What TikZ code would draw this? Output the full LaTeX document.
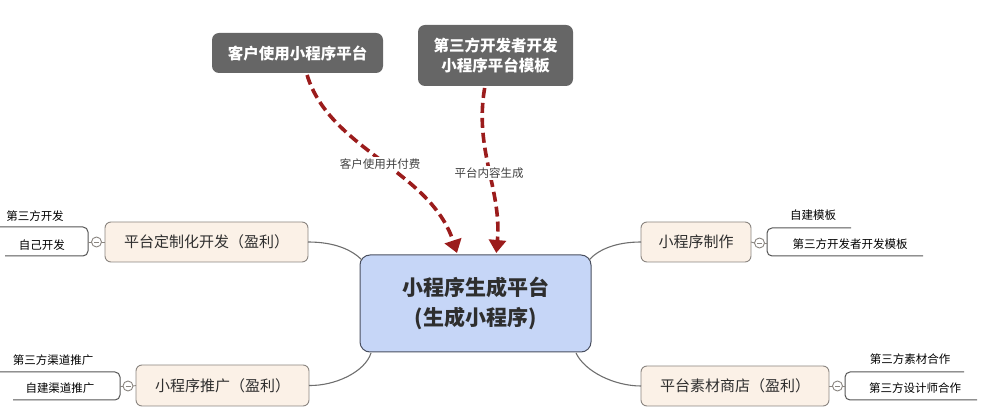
\documentclass[tikz,border=0pt]{standalone}
\usepackage{fontspec}
\setmainfont{Noto Sans CJK SC}
\usetikzlibrary{arrows.meta,calc}
\definecolor{arrowred}{HTML}{9B1C1C}
\definecolor{darkbox}{HTML}{666666}
\definecolor{peach}{HTML}{FBF1E7}
\definecolor{centerblue}{HTML}{C6D6F7}
\definecolor{centerborder}{HTML}{4A5060}
\definecolor{boxborder}{HTML}{8A8580}
\definecolor{linegray}{HTML}{555555}
\definecolor{textdark}{HTML}{2E2E2E}
\tikzset{
  darkstyle/.style={fill=darkbox, rounded corners=7pt, inner sep=0pt, outer sep=0pt, text=white, font=\fontsize{15.5}{20}\selectfont\bfseries, align=center},
  centerstyle/.style={fill=centerblue, draw=centerborder, line width=1pt, rounded corners=10pt, inner sep=0pt, outer sep=0pt, text=textdark, font=\fontsize{21}{30}\selectfont\bfseries, align=center, minimum width=231pt, minimum height=97pt},
  branchstyle/.style={fill=peach, draw=boxborder, line width=0.9pt, rounded corners=6pt, inner sep=0pt, outer sep=0pt, text=textdark, font=\fontsize{15}{18}\selectfont, minimum height=40pt},
  subtext/.style={inner sep=0pt, text=black, font=\fontsize{11.5}{14}\selectfont},
  flowarrow/.style={draw=arrowred, line width=3.6pt, dash pattern=on 10pt off 5pt, -{Triangle[width=17pt,length=13pt,fill=arrowred]}},
  arrowlabel/.style={fill=white, inner sep=1.5pt, text=black!75, font=\fontsize{11.5}{14}\selectfont},
  link/.style={draw=linegray!85, line width=1.1pt},
  bracket/.style={draw=linegray, line width=1pt, rounded corners=5pt},
  knob/.style={circle, draw=boxborder, fill=white, line width=0.9pt, minimum size=10pt, inner sep=0pt, outer sep=0pt},
}
\begin{document}
\begin{tikzpicture}[x=1pt,y=-1pt]
\useasboundingbox (0,0) rectangle (989,419);

% central node
\node[centerstyle] (c) at (475.5,303.5) {小程序生成平台\\(生成小程序)};

% top dark boxes
\node[darkstyle, minimum width=171pt, minimum height=40pt] (d1) at (297.5,53) {客户使用小程序平台};
\node[darkstyle, minimum width=155pt, minimum height=61pt] (d2) at (495.5,55.5) {第三方开发者开发\\小程序平台模板};

% branch nodes
\node[branchstyle, minimum width=203pt] (b1) at (206.5,242) {平台定制化开发（盈利）};
\node[branchstyle, minimum width=173pt, minimum height=41pt] (b2) at (222.5,385.5) {小程序推广（盈利）};
\node[branchstyle, minimum width=110pt] (b3) at (696,242) {小程序制作};
\node[branchstyle, minimum width=188pt] (b4) at (735,386) {平台素材商店（盈利）};

% links from centre to branches
\draw[link] (b1.east) .. controls (335,242) and (352,250) .. ($(c.north west)+(2,5)$);
\draw[link] (b2.east) .. controls (335,386) and (365,372) .. ($(c.south west)+(11,1)$);
\draw[link] (b3.west) .. controls (615,242) and (598,250) .. ($(c.north east)+(-2,5)$);
\draw[link] (b4.west) .. controls (615,386) and (585,372) .. ($(c.south east)+(-15,1)$);

% dashed arrows
\coordinate (a1s) at ($(d1.south west)!0.556!(d1.south east)+(0,2)$);
\coordinate (a1e) at ($(c.north west)!0.42!(c.north east)+(0,-2)$);
\coordinate (a2s) at ($(d2.south west)!0.43!(d2.south east)+(0,2)$);
\coordinate (a2e) at ($(c.north west)!0.59!(c.north east)+(0,-2)$);
\draw[flowarrow] (a1s) .. controls (330,150) and (430,170) .. (a1e);
\draw[flowarrow] (a2s) .. controls (474,150) and (502,190) .. (a2e);
\node[arrowlabel] (l1) at (380,164) {客户使用并付费};
\node[arrowlabel] (l2) at (489,173) {平台内容生成};

% collapse knobs
\node[knob] (k1) at (96.5,242) {};
\node[knob] (k2) at (128,386) {};
\node[knob] (k3) at (759.5,243) {};
\node[knob] (k4) at (837.5,386) {};
\foreach \k in {k1,k2,k3,k4}{
  \draw[boxborder, line width=0.8pt] ($(\k.center)+(-2.5,0)$) -- ($(\k.center)+(2.5,0)$);
}
\draw[boxborder, line width=0.9pt] (k1.east) -- (b1.west);
\draw[boxborder, line width=0.9pt] (k2.east) -- (b2.west);
\draw[boxborder, line width=0.9pt] (k3.west) -- (b3.east);
\draw[boxborder, line width=0.9pt] (k4.west) -- (b4.east);

% brackets
\coordinate (e1t) at (0,227);   \coordinate (e1b) at (5,256);
\coordinate (e2t) at (0,372);   \coordinate (e2b) at (13,400);
\coordinate (e3t) at (851,228); \coordinate (e3b) at (923,256);
\coordinate (e4t) at (964,372); \coordinate (e4b) at (977,400);
\draw[bracket] (e1t) -- (88,227) -- (88,256) -- (e1b);
\draw[bracket] (e2t) -- (120,372) -- (120,400) -- (e2b);
\draw[bracket] (e3t) -- (767,228) -- (767,256) -- (e3b);
\draw[bracket] (e4t) -- (845,372) -- (845,400) -- (e4b);
\draw[boxborder, line width=0.9pt] (k1.west) -- (88,242);
\draw[boxborder, line width=0.9pt] (k2.west) -- (120,386);
\draw[boxborder, line width=0.9pt] (k3.east) -- (767,243);
\draw[boxborder, line width=0.9pt] (k4.east) -- (845,386);

% sub texts
\node[subtext] (s1) at (35,216) {第三方开发};
\node[subtext] (s2) at (42,245) {自己开发};
\node[subtext] (s3) at (53,360) {第三方渠道推广};
\node[subtext] (s4) at (60,388) {自建渠道推广};
\node[subtext] (s5) at (813,215) {自建模板};
\node[subtext] (s6) at (850,244) {第三方开发者开发模板};
\node[subtext] (s7) at (910,359) {第三方素材合作};
\node[subtext] (s8) at (915,388) {第三方设计师合作};
\end{tikzpicture}
\end{document}
